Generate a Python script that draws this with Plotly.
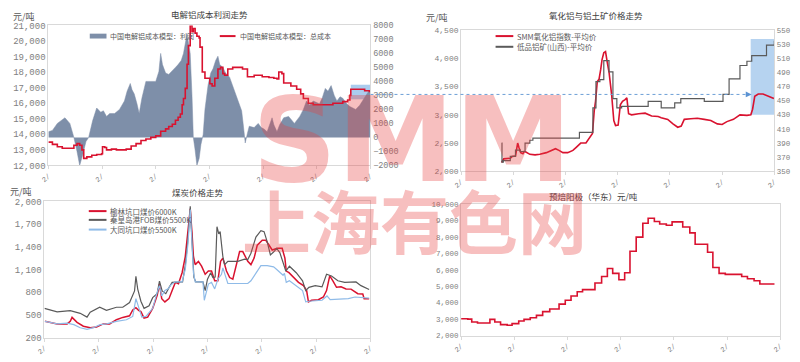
import plotly.graph_objects as go

W, H = 800, 362
def px(x): return x / W
def py(y): return 1 - y / H

# ---------------- data (x in months from start, 6 periods of 12) ----------------
tick_vals = [0, 12, 24, 36, 48, 60, 72]
tick_text = ["2/", "2/", "2/", "2/", "2/", "2/", "2/"]

# Panel 1: electrolytic aluminium cost model
profit_x = [0, 0.9, 2, 3.7, 4.8, 5.7, 6.4, 7, 7.7, 8.4, 9, 9.9, 10.8, 11.7, 12.3, 13, 13.7, 14.8, 15.9, 17,
            17.6, 18.3, 18.7, 19.2, 19.8, 20.3, 20.9, 21.8, 22.9, 24, 24.7, 25.1, 25.5, 26.2, 26.9, 27.7, 28.4,
            29, 29.7, 30.2, 30.6, 31, 31.3, 31.7, 32.1, 32.4, 32.8, 33.2, 33.7, 34.1, 34.6, 35, 35.7, 36.3,
            36.8, 37.4, 37.9, 38.3, 39, 39.6, 40.5, 41.4, 42.1, 42.7, 43.2, 43.6, 44, 44.5, 44.9, 46, 46.9,
            47.6, 48.2, 48.9, 49.5, 50, 50.4, 51.1, 51.7, 52.6, 53.7, 54.4, 55, 56.2, 57, 57.7, 58.4, 59.2,
            60.6, 61.2, 61.9, 62.5, 63.2, 63.9, 64.5, 65.2, 65.8, 66.7, 67.4, 68.7, 69.6, 70.2, 70.9, 71.6, 72]
profit_y = [400, 500, 1000, 1400, 1000, 0, -1000, -2000, -1200, -300, 0, 1200, 2100, 1800, 1900, 1500, 1700,
            1700, 2000, 2600, 3300, 3850, 3400, 3100, 2400, 1700, 2800, 4000, 4000, 4000, 4700, 6000, 5200,
            4600, 4500, 4800, 5000, 5200, 5500, 6000, 6700, 7400, 6800, 6000, 3000, 0, -900, -2000, -1500,
            -500, 200, 2000, 3750, 4600, 4900, 5500, 5800, 5200, 5000, 4600, 4300, 3500, 2800, 2200, 1900,
            800, -400, 300, 800, 700, 1000, 700, 600, 400, 900, 1400, 900, 400, 900, 1400, 1500, 1200, 1000,
            1500, 2000, 2600, 2300, 2600, 2400, 2800, 3500, 3300, 3700, 3000, 2600, 2900, 2800, 2400, 2200,
            2000, 2300, 2600, 3000, 3300, 3400]
cost_x = [0, 0.9, 2, 3.1, 4.8, 5.7, 6.4, 7, 7.5, 7.9, 8.6, 9.7, 10.8, 11.9, 12.1, 12.6, 13, 14.1, 15.2, 16.3,
          17.4, 18.5, 19.6, 20.7, 21.8, 22.9, 24, 25.1, 26.2, 26.9, 27.7, 28.4, 29, 29.5, 29.9, 30.2, 30.6, 31,
          31.3, 31.7, 32.1, 32.4, 32.8, 33.2, 33.7, 33.9, 34.4, 35, 36.1, 36.6, 37.2, 37.9, 38.5, 39, 39.4,
          40.1, 41.2, 42.3, 43.4, 44.5, 46, 47.8, 49.3, 50.4, 51.1, 51.5, 52.2, 52.6, 54.2, 55.5, 56.4, 57,
          58.1, 59.2, 61.4, 63.6, 65.8, 66.9, 67.4, 67.6, 69.1, 70.7, 71.8]
cost_y = [13500, 13350, 13200, 13100, 13100, 13300, 13400, 13300, 13000, 12450, 12550, 12650, 12700, 12750,
          13200, 13150, 13000, 13050, 13000, 13000, 13050, 13250, 13400, 13600, 13700, 13800, 13900, 14200,
          14350, 14500, 14650, 14900, 15100, 15300, 15900, 16300, 16950, 18500, 19700, 21000, 20600, 20800,
          20500, 20300, 20200, 19600, 18000, 17600, 17250, 17100, 17600, 18200, 18300, 17900, 17800, 18200,
          18300, 18300, 18200, 17700, 17800, 17700, 17650, 17600, 17550, 18000, 17900, 17300, 17100, 16900,
          16600, 16300, 16000, 15900, 15900, 16000, 16100, 16200, 16500, 16900, 16900, 16800, 16700]

# Panel 2: alumina & bauxite
alumina_x = [9.3, 9.8, 11.3, 11.7, 12.5, 12.8, 13, 13.3, 13.7, 14.2, 14.5, 14.9, 15.8, 17, 18.1, 19.6, 21.1,
             21.7, 22.5, 23.4, 24.5, 25.7, 26.4, 27.5, 28.7, 29.4, 30.2, 30.6, 30.9, 31.3, 31.7, 32.1, 32.4,
             32.8, 33.2, 33.6, 34, 34.6, 35.1, 35.5, 36.1, 36.6, 37.1, 37.7, 38.1, 38.5, 39.2, 40.8, 42.3,
             43.8, 45.3, 46, 47.5, 48.7, 49.8, 50.6, 51.3, 52.8, 54.3, 55.9, 57.4, 58.9, 60, 61.1, 62.6, 64.1,
             65.7, 66.6, 67, 67.5, 68.3, 69.4, 70.2, 71.3, 71.9]
alumina_y = [2155, 2220, 2230, 2260, 2270, 2450, 2500, 2420, 2330, 2310, 2350, 2340, 2300, 2290, 2300, 2330,
             2370, 2400, 2370, 2330, 2330, 2370, 2420, 2500, 2500, 2570, 2670, 3070, 3240, 3590, 3630, 3810,
             3980, 4100, 4120, 3930, 3760, 3360, 2900, 2810, 2820, 3180, 3240, 3270, 3300, 3020, 3000, 3020,
             3030, 2980, 2970, 2950, 2920, 2840, 2780, 2800, 2920, 2930, 2940, 2920, 2900, 2840, 2830, 2880,
             2920, 3000, 2990, 3000, 3100, 3330, 3370, 3370, 3340, 3310, 3290]
bauxite_x = [9.3, 9.4, 9.7, 11.3, 12.5, 13.6, 14.7, 15.8, 16.5, 27.2, 30.3, 31, 31.9, 32.8, 34, 34.9, 35.8,
             36.9, 43, 46, 49.1, 50.5, 55.9, 60.2, 61.6, 64.1, 65.7, 66.8, 70.2, 72]
bauxite_y = [390, 363, 365, 371, 380, 378, 390, 394, 397, 405, 440, 477, 480, 507, 491, 453, 440, 442, 449,
             440, 447, 453, 449, 459, 481, 500, 506, 514, 529, 535]

# Panel 3: coal prices
yulin_x = [0.1, 1.4, 2.8, 5, 5.7, 6.1, 6.5, 7.2, 8.6, 10.1, 11.5, 13, 14.4, 15.9, 17.3, 18.8, 19.5, 20.2, 20.8,
           21.3, 22, 22.8, 23.9, 24.9, 25.4, 25.9, 26.6, 27.5, 28.2, 28.9, 29.6, 30.4, 31.1, 31.7, 32.2, 32.6,
           32.9, 33.3, 34, 34.7, 35.5, 36.2, 36.9, 37.6, 38.3, 38.9, 39.4, 40.2, 40.9, 41.6, 42.3, 43.1, 43.8,
           44.2, 44.9, 45.6, 46.3, 47, 48.1, 48.9, 49.6, 50.3, 51.4, 52.5, 53.1, 53.4, 54, 54.7, 56.1, 57.2,
           57.9, 58.3, 59, 60.5, 61.6, 62.3, 63, 63.7, 64.5, 65.5, 66.6, 67.7, 69.2, 70.3, 70.6, 71.7]
yulin_y = [414, 393, 380, 380, 414, 466, 440, 400, 350, 329, 340, 380, 380, 436, 466, 487, 564, 594, 560, 543,
           457, 470, 586, 757, 907, 714, 671, 714, 821, 929, 910, 1057, 1271, 1571, 1900, 1571, 1271, 1164,
           1207, 1143, 1036, 1079, 1079, 950, 950, 1207, 1250, 1079, 993, 971, 1143, 1336, 1336, 1293, 1207,
           1164, 1250, 1421, 1486, 1486, 1421, 1357, 1379, 1379, 1250, 1079, 1057, 1014, 929, 886, 821, 671,
           693, 700, 736, 821, 1014, 950, 864, 870, 843, 840, 779, 775, 714, 714]
qhd_x = [0, 2.8, 5.7, 7.9, 9.4, 10.1, 12.2, 13.7, 15.9, 17.3, 18.8, 19.9, 20.2, 20.6, 21.3, 22, 23.1, 23.9,
         24.9, 25.4, 26, 26.8, 27.5, 28.2, 30.5, 31.1, 31.7, 32.2, 32.6, 33, 33.4, 35, 35.5, 36, 36.7, 37.2,
         37.7, 38.1, 38.5, 38.8, 39.4, 39.8, 40.5, 41.2, 42.7, 44.2, 44.9, 45.6, 46.7, 47.8, 48.5, 49.2, 49.9,
         50.6, 51.3, 52, 52.7, 53.3, 54.1, 55.6, 57, 57.7, 58.4, 59.8, 61.3, 62.3, 63.4, 64.8, 66.3, 67.7,
         68.8, 69.9, 71.7]
qhd_y = [586, 540, 555, 520, 470, 535, 600, 560, 600, 600, 663, 817, 1010, 840, 680, 586, 620, 727, 780, 946,
         817, 780, 860, 930, 935, 1150, 1500, 1935, 1460, 1000, 935, 935, 821, 971, 1057, 993, 1000, 1666,
         1571, 1600, 1271, 1164, 1207, 1207, 1207, 1237, 1230, 1314, 1529, 1614, 1600, 1464, 1293, 1330,
         1379, 1320, 1186, 1079, 1143, 1057, 950, 821, 864, 886, 870, 1036, 1014, 950, 929, 929, 935, 886, 834]
datong_x = [0.1, 2.8, 5, 6.5, 7.9, 9.4, 10.8, 12.3, 13.7, 15.9, 18.1, 19.5, 20.2, 20.8, 21.5, 22.4, 23.9,
            24.9, 25.4, 25.9, 26.6, 27.3, 28, 28.9, 30.4, 31.1, 31.7, 32.2, 32.6, 32.9, 33.3, 35, 35.3, 36.2,
            36.9, 37.6, 38.3, 39.1, 39.4, 39.9, 40.5, 42.7, 44.9, 45.6, 46.7, 47.8, 49.2, 50.6, 51.3, 52, 52.7,
            53, 53.4, 54.1, 55.6, 57, 57.7, 58.4, 61.3, 62.4, 63.1, 67.1, 68.6, 71.7]
datong_y = [414, 380, 390, 370, 329, 307, 330, 371, 380, 414, 435, 479, 714, 586, 470, 479, 586, 800, 886, 750,
            821, 843, 900, 937, 937, 1100, 1443, 1893, 1443, 1057, 937, 937, 693, 907, 929, 843, 971, 1036,
            1121, 1014, 914, 914, 914, 950, 1057, 1151, 1151, 1134, 1100, 1057, 1023, 1050, 929, 950, 886, 821,
            671, 680, 693, 750, 700, 714, 736, 721]

# Panel 4: prebaked anode (East China)
anode_x = [0, 1.5, 2.4, 3.7, 6.5, 7.6, 8.9, 10.4, 11.5, 13, 14.2, 15.6, 17, 18.4, 20, 22.1, 23.5, 24.8, 26.2,
           27.4, 30.2, 31.7, 33, 34.2, 35.6, 36.9, 38.1, 39.5, 41, 42.2, 43.6, 44.8, 46.3, 47.6, 50, 51.6,
           52.8, 55.6, 56.8, 58.2, 59.6, 63.3, 64.6, 66.1, 67.4, 70.7]
anode_y = [3030, 3000, 2830, 2770, 2990, 2830, 2670, 2630, 2730, 2890, 2990, 3090, 3230, 3460, 3620, 3920,
           4150, 4410, 4670, 4800, 5200, 5600, 6090, 5790, 5400, 5830, 7140, 8000, 8850, 9150, 8950, 8800,
           8720, 8930, 8620, 8260, 7570, 7080, 6150, 5790, 5730, 5600, 5460, 5340, 5140, 5140]

# ---------------- styling ----------------
RED = "#d9122f"
GRAY = "#5a5a5a"
LBLUE = "#8fbbe8"
AREA = "#7e8fa9"
TICK = "#808080"
TXT = "#404040"
LEG = "#595959"
CJK = "Noto Sans CJK SC"
MONO = "Liberation Mono"

fig = go.Figure()

# Panel 1 (profit on main y = right side, cost on overlay = left side so line draws on top)
fig.add_trace(go.Scatter(x=profit_x, y=profit_y, xaxis="x", yaxis="y", mode="lines",
                         line=dict(width=0.5, color=AREA), fill="tozeroy", fillcolor=AREA,
                         name="中国电解铝成本模型：利润"))
fig.add_trace(go.Scatter(x=cost_x, y=cost_y, xaxis="x", yaxis="y2", mode="lines", line_shape="hv",
                         line=dict(width=1.6, color=RED), name="中国电解铝成本模型：总成本"))

# Panel 2
fig.add_trace(go.Scatter(x=bauxite_x, y=bauxite_y, xaxis="x2", yaxis="y4", mode="lines", line_shape="hv",
                         line=dict(width=1.2, color=GRAY), name="低品铝矿(山西)-平均价"))
fig.add_trace(go.Scatter(x=alumina_x, y=alumina_y, xaxis="x2", yaxis="y3", mode="lines",
                         line=dict(width=1.6, color=RED), name="SMM氧化铝指数-平均价"))

# Panel 3
fig.add_trace(go.Scatter(x=yulin_x, y=yulin_y, xaxis="x3", yaxis="y5", mode="lines",
                         line=dict(width=1.5, color=RED), name="榆林坑口煤价6000K"))
fig.add_trace(go.Scatter(x=qhd_x, y=qhd_y, xaxis="x3", yaxis="y5", mode="lines",
                         line=dict(width=1.2, color=GRAY), name="秦皇岛港FOB煤价5500K"))
fig.add_trace(go.Scatter(x=datong_x, y=datong_y, xaxis="x3", yaxis="y5", mode="lines",
                         line=dict(width=1.2, color=LBLUE), name="大同坑口煤价5500K"))

# Panel 4
fig.add_trace(go.Scatter(x=anode_x, y=anode_y, xaxis="x4", yaxis="y6", mode="lines", line_shape="hv",
                         line=dict(width=1.6, color=RED), name="预焙阳极"))

def xax(dom, anchor):
    return dict(domain=dom, anchor=anchor, range=[0, 72], tickmode="array", tickvals=tick_vals,
                ticktext=tick_text, tickangle=-40, tickfont=dict(family=MONO, size=7, color=TICK),
                showgrid=False, zeroline=False, showline=True, linecolor="#d9d9d9", mirror=True,
                ticks="outside", ticklen=3, tickcolor="#d9d9d9")

def yax(dom, anchor, rng, dtick, fmt, side="left", size=9, overlay=None):
    d = dict(domain=dom, anchor=anchor, range=rng, tick0=rng[0], dtick=dtick, tickformat=fmt, side=side,
             tickfont=dict(family=MONO, size=size, color=TICK), showgrid=False, zeroline=False,
             showline=True, linecolor="#d9d9d9", mirror=True, ticks="")
    if overlay:
        d["overlaying"] = overlay
        d.pop("domain")
    return d

d1x, d1y = [px(41), px(368)], [py(166), py(22)]
d2x, d2y = [px(460), px(778)], [py(172), py(27)]
d3x, d3y = [px(37), px(368)], [py(343), py(203)]
d4x, d4y = [px(460), px(784)], [py(341), py(206)]

fig.update_layout(
    width=W, height=H, margin=dict(l=0, r=0, t=0, b=0), showlegend=False,
    paper_bgcolor="white", plot_bgcolor="rgba(0,0,0,0)", font=dict(family=CJK, color=TXT),
    xaxis=xax(d1x, "y"),
    yaxis=yax(d1y, "x", [-2000, 8000], 1000, "d", side="right", size=8.5),
    yaxis2=yax(d1y, "x", [12000, 21000], 1000, ",d", side="left", size=9, overlay="y"),
    xaxis2=xax(d2x, "y3"),
    yaxis3=yax(d2y, "x2", [2000, 4500], 500, ",d", side="left", size=8),
    yaxis4=yax(d2y, "x2", [350, 550], 20, "d", side="right", size=7.5, overlay="y3"),
    xaxis3=xax(d3x, "y5"),
    yaxis5=yax(d3y, "x3", [200, 2000], 300, ",d", side="left", size=9),
    xaxis4=xax(d4x, "y6"),
    yaxis6=yax(d4y, "x4", [2000, 10000], 1000, ",d", side="left", size=7.5),
)

ann = []
def text(x, y, s, size=8.5, color=TXT, xanchor="center"):
    ann.append(dict(x=px(x), y=py(y), xref="paper", yref="paper", text=s, showarrow=False,
                    xanchor=xanchor, yanchor="middle",
                    font=dict(family=CJK, size=size, color=color)))

text(205, 10, "电解铝成本利润走势")
text(597, 11, "氧化铝与铝土矿价格走势")
text(193, 193, "煤炭价格走势")
text(594, 197, "预焙阳极（华东）元/吨")
text(16, 13, "元/吨", size=9, color=LEG)
text(436, 14, "元/吨", size=9, color=LEG)
text(13, 193, "元/吨", size=9, color=LEG)

shapes = [
    dict(type="rect", xref="paper", yref="paper", x0=px(348), x1=px(368), y0=py(98), y1=py(83),
         fillcolor="rgba(143,187,232,0.75)", line=dict(width=0), layer="below"),
    dict(type="rect", xref="paper", yref="paper", x0=px(754), x1=px(778), y0=py(114), y1=py(36),
         fillcolor="rgba(143,187,232,0.65)", line=dict(width=0), layer="below"),
    dict(type="line", xref="paper", yref="paper", x0=px(368), x1=px(750), y0=py(93), y1=py(93),
         line=dict(color="#6d9fd6", width=1, dash="dot")),
    dict(type="path", xref="paper", yref="paper",
         path=f"M {px(749)} {py(90)} L {px(755)} {py(93)} L {px(749)} {py(96)} Z",
         fillcolor="#5b93d3", line=dict(width=0)),
]

# custom legends (swatch + label) built from the trace names/colours
def leg_line(x0, x1, y, color, label, width=2, size=7.5):
    shapes.append(dict(type="line", xref="paper", yref="paper", x0=px(x0), x1=px(x1), y0=py(y), y1=py(y),
                       line=dict(color=color, width=width)))
    text(x1 + 2, y, label, size=size, color=LEG, xanchor="left")

def leg_box(x0, x1, y, color, label, size=7.5):
    shapes.append(dict(type="rect", xref="paper", yref="paper", x0=px(x0), x1=px(x1), y0=py(y + 2.5),
                       y1=py(y - 2.5), fillcolor=color, line=dict(width=0)))
    text(x1 + 2, y, label, size=size, color=LEG, xanchor="left")

tr = fig.data
leg_box(83, 100, 33, AREA, tr[0].name, size=7)
leg_line(215, 231, 33, RED, tr[1].name, size=7)
leg_line(495, 513, 33, RED, tr[3].name)
leg_line(495, 513, 44, GRAY, tr[2].name)
leg_line(82, 100, 213, RED, tr[4].name)
leg_line(82, 100, 222, GRAY, tr[5].name)
leg_line(82, 100, 232, LBLUE, tr[6].name)

# watermark
ann.append(dict(x=px(410), y=py(140), xref="paper", yref="paper", text="<b>SMM</b>", showarrow=False,
                font=dict(family="DejaVu Sans", size=118, color="rgba(232,60,60,0.33)")))
ann.append(dict(x=px(413), y=py(221), xref="paper", yref="paper", text="<b>上海有色网</b>", showarrow=False,
                font=dict(family=CJK, size=69, color="rgba(232,60,60,0.33)")))

fig.update_layout(annotations=ann, shapes=shapes)
fig.write_html("out.html")
